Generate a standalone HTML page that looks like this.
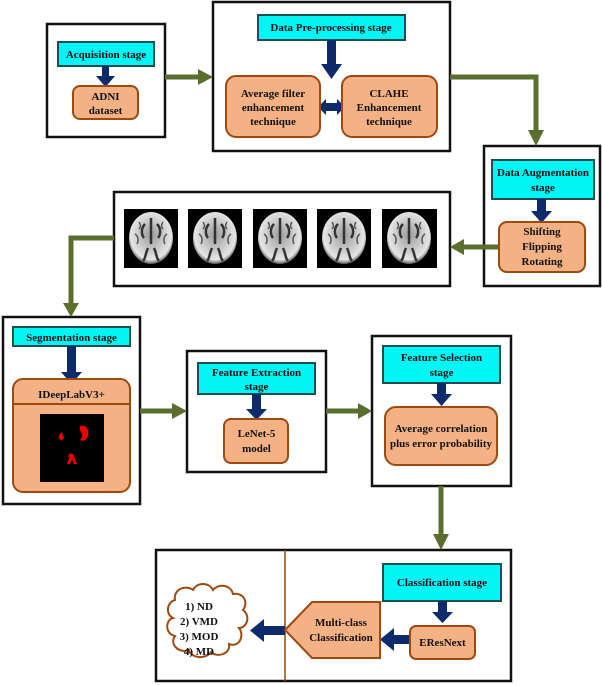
<!DOCTYPE html>
<html><head><style>
html,body{margin:0;padding:0;background:#fff;}
svg{display:block;}
text{font-family:"Liberation Serif",serif;font-weight:bold;font-size:11px;fill:#111;text-anchor:middle;}
</style></head><body>
<svg width="602" height="685" viewBox="0 0 602 685" xmlns="http://www.w3.org/2000/svg">
<defs>
<radialGradient id="br" cx="50%" cy="45%" r="55%">
<stop offset="0" stop-color="#9a9a9a"/><stop offset="0.5" stop-color="#c8c8c8"/><stop offset="0.85" stop-color="#e6e6e6"/><stop offset="1" stop-color="#555"/>
</radialGradient>
<g id="brain">
<ellipse cx="0" cy="0" rx="22" ry="26" fill="url(#br)"/>
<path d="M-6,-14 c-4,4 -4,10 -1,14 M6,-14 c4,4 4,10 1,14 M0,-20 L0,6 M-3,10 c-3,6 -2,10 -5,13 M3,10 c3,6 2,10 5,13" stroke="#333" stroke-width="2.5" fill="none"/>
<path d="M-16,-4 c3,2 4,6 2,10 M16,-4 c-3,2 -4,6 -2,10 M-12,-16 c2,3 2,5 0,7 M12,-16 c-2,3 -2,5 0,7" stroke="#555" stroke-width="1.5" fill="none"/>
</g>
</defs>
<g fill="none" stroke="#111" stroke-width="2.5">
<rect x="47" y="24" width="118" height="113"/>
<rect x="213" y="2" width="237" height="149"/>
<rect x="484" y="146" width="116" height="140"/>
<rect x="114" y="192" width="336" height="94"/>
<rect x="3" y="317" width="137" height="187"/>
<rect x="187" y="351" width="139" height="121"/>
<rect x="372" y="336" width="139" height="150"/>
<rect x="156" y="550" width="355" height="131"/>
</g>
<line x1="285" y1="550" x2="285" y2="681" stroke="#9c4a12" stroke-width="1.5"/>
<g stroke="#5a6e2e" stroke-width="5" fill="none">
<polyline points="165,77 200,77"/>
<polyline points="450,77 536,77 536,132"/>
<polyline points="502,247 462,247"/>
<polyline points="114,238 71,238 71,305"/>
<polyline points="140,411 174,411"/>
<polyline points="326,411 360,411"/>
<polyline points="441,486 441,536"/>
</g>
<g fill="#5a6e2e">
<polygon points="198,69 213,77 198,85"/>
<polygon points="528,130 544,130 536,146"/>
<polygon points="464,239 450,247 464,255"/>
<polygon points="63,303 79,303 71,317"/>
<polygon points="172,403 187,411 172,419"/>
<polygon points="358,403 372,411 358,419"/>
<polygon points="433,534 449,534 441,550"/>
</g>
<g fill="#00f5f5" stroke="#1e4f4f" stroke-width="2">
<rect x="58" y="42" width="96" height="24"/>
<rect x="258" y="15" width="147" height="25"/>
<rect x="492" y="160" width="102" height="39"/>
<rect x="13" y="327" width="117" height="19"/>
<rect x="198" y="363" width="117" height="31"/>
<rect x="383" y="346" width="117" height="37"/>
<rect x="383" y="564" width="118" height="37"/>
</g>
<g fill="#0d2a6b">
<rect x="102" y="66" width="7" height="12"/><polygon points="96,76 115,76 105.5,87"/>
<rect x="327" y="40" width="9" height="26"/><polygon points="321,64 342,64 331.5,79"/>
<polygon points="318,107 326,99 326,103 337,103 337,99 345,107 337,115 337,111 326,111 326,115"/>
<rect x="537" y="199" width="9" height="14"/><polygon points="531,211 552,211 541.5,223"/>
<rect x="67" y="346" width="9" height="28"/><polygon points="61,372 82,372 71.5,384"/>
<rect x="252" y="394" width="9" height="17"/><polygon points="246,409 267,409 256.5,420"/>
<rect x="437" y="383" width="9" height="13"/><polygon points="431,394 452,394 441.5,406"/>
<rect x="438" y="601" width="9" height="13"/><polygon points="432,612 453,612 442.5,623"/>
<rect x="392" y="635" width="18" height="9"/><polygon points="394,628 394,651 380,639.5"/>
<rect x="262" y="626" width="23" height="9"/><polygon points="264,619 264,642 250,630.5"/>
</g>
<g fill="#f4b183" stroke="#9c4a12" stroke-width="2">
<rect x="73" y="86" width="65" height="33" rx="7"/>
<rect x="226" y="76" width="94" height="61" rx="10"/>
<rect x="342" y="76" width="95" height="61" rx="10"/>
<rect x="499" y="222" width="86" height="50" rx="8"/>
<rect x="13" y="379" width="117" height="113" rx="10"/>
<rect x="224" y="419" width="64" height="44" rx="7"/>
<rect x="385" y="407" width="112" height="58" rx="11"/>
<rect x="410" y="626" width="65" height="33" rx="6"/>
<polygon points="285,630 312,602 380,602 380,658 312,658"/>
</g>
<line x1="13" y1="404" x2="130" y2="404" stroke="#9c4a12" stroke-width="2"/>
<rect x="40" y="414" width="64" height="68" fill="#000"/>
<g fill="#e00">
<path d="M80,426 c6,-2 10,4 8,10 c-1,4 -5,6 -8,4 c3,-3 3,-7 0,-9 z"/>
<path d="M62,432 c-4,3 -4,7 -1,8 c3,0 4,-3 2,-4 z"/>
<path d="M71,454 l-4,10 l3,0 l2,-5 l2,5 l3,0 l-4,-10 z"/>
<circle cx="71" cy="456" r="2.5"/>
</g>
<g>
<rect x="124" y="209" width="54" height="59" fill="#000"/><use href="#brain" x="151" y="238"/>
<rect x="188" y="209" width="54" height="59" fill="#000"/><use href="#brain" x="215" y="238"/>
<rect x="253" y="209" width="54" height="59" fill="#000"/><use href="#brain" x="280" y="238"/>
<rect x="317" y="209" width="54" height="59" fill="#000"/><use href="#brain" x="344" y="238"/>
<rect x="382" y="209" width="55" height="59" fill="#000"/><use href="#brain" x="409" y="238"/>
</g>
<path d="M175,600 c-2,-10 10,-16 18,-10 c4,-8 16,-8 20,0 c6,-7 18,-5 20,4 c10,-2 16,8 10,16 c8,6 4,18 -4,18 c6,8 0,20 -10,16 c2,10 -12,14 -18,8 c-6,8 -20,6 -22,-2 c-10,4 -20,-6 -14,-14 c-10,-2 -10,-16 -2,-18 c-8,-4 -6,-16 2,-18 z" fill="#fff" stroke="#9c4a12" stroke-width="2"/>
<text x="106" y="58">Acquisition stage</text>
<text x="105.5" y="100">ADNI</text><text x="105.5" y="114">dataset</text>
<text x="331" y="31">Data Pre-processing stage</text>
<text x="273" y="97">Average filter</text><text x="273" y="111">enhancement</text><text x="273" y="125">technique</text>
<text x="389" y="97">CLAHE</text><text x="389" y="111">Enhancement</text><text x="389" y="125">technique</text>
<text x="543" y="176">Data Augmentation</text><text x="543" y="191">stage</text>
<text x="542" y="235">Shifting</text><text x="542" y="250">Flipping</text><text x="542" y="265">Rotating</text>
<text x="71.5" y="341">Segmentation stage</text>
<text x="71.5" y="398">IDeepLabV3+</text>
<text x="256.5" y="376">Feature Extraction</text><text x="256.5" y="390">stage</text>
<text x="256.5" y="437">LeNet-5</text><text x="256.5" y="452">model</text>
<text x="441.5" y="361">Feature Selection</text><text x="441.5" y="376">stage</text>
<text x="441" y="432">Average correlation</text><text x="441" y="447">plus error probability</text>
<text x="442" y="586">Classification stage</text>
<text x="442.5" y="646">EResNext</text>
<text x="341" y="626">Multi-class</text><text x="341" y="641">Classification</text>
<text x="199" y="610">1) ND</text><text x="199" y="625">2) VMD</text><text x="199" y="640">3) MOD</text><text x="199" y="655">4) MD</text>
</svg>
</body></html>
